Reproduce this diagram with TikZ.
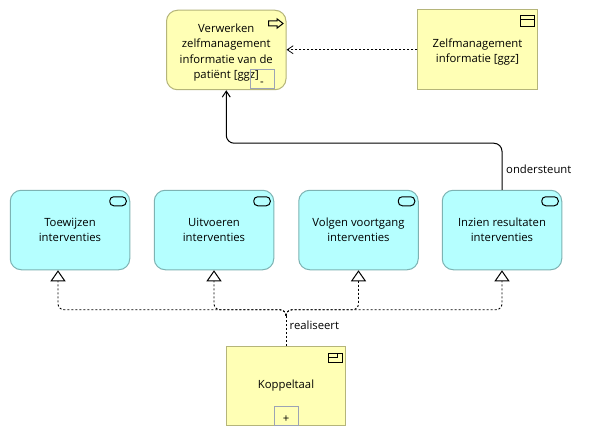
\documentclass[tikz,border=0pt]{standalone}
\usepackage{fontspec}
\setmainfont{Open Sans}
\usetikzlibrary{arrows.meta,calc}
\definecolor{ylw}{HTML}{FFFFB5}
\definecolor{ylwb}{HTML}{B5B57A}
\definecolor{cyn}{HTML}{B5FFFF}
\definecolor{cynb}{HTML}{7DB3B3}
\definecolor{boxb}{HTML}{9CA3B5}
\tikzset{
  x=1pt,y=-1pt,
  every node/.style={font=\fontsize{11.3}{15.3}\selectfont,text=black,inner sep=0pt},
  elem/.style={draw=#1,line width=1pt,minimum width=119.5pt,minimum height=79.5pt,align=center},
  plain/.style={elem=ylwb,fill=ylw},
  proc/.style={elem=ylwb,fill=ylw,rounded corners=11pt},
  func/.style={elem=cynb,fill=cyn,rounded corners=11pt},
  exp/.style={draw=boxb,line width=1pt,minimum width=24pt,minimum height=19pt,text height=13pt,text depth=0pt},
  icon/.style={draw=black,line width=1pt},
  real/.style={draw=black,line width=.9pt,dash pattern=on 2pt off 2pt,rounded corners=6pt,
    -{Triangle[open,length=11pt,width=15pt,line width=1pt,fill=white]}},
  trunk/.style={draw=black,line width=.9pt,dash pattern=on 2pt off 2pt},
  flow/.style={draw=black,line width=.8pt,dash pattern=on 2pt off 2pt,
    -{Straight Barb[length=6pt,width=8pt,line width=.8pt]}},
  serv/.style={draw=black,line width=1pt,rounded corners=8pt,
    -{Straight Barb[length=6pt,width=8pt,line width=1pt]}},
  lab/.style={anchor=west}
}
\begin{document}
\begin{tikzpicture}
\useasboundingbox (0,0) rectangle (590,436);
\fill[white] (0,0) rectangle (590,436);
\node[proc] (v) at (226.25,50) {\rule{0pt}{14pt}Verwerken\\zelfmanagement\\informatie van de\\patiënt [ggz]};
\node[plain] (z) at (477.5,49.75) {\rule{0pt}{13pt}Zelfmanagement\\informatie [ggz]};
\node[func] (a) at (70,230) {Toewijzen\\interventies};
\node[func] (b) at (214,230) {Uitvoeren\\interventies};
\node[func] (c) at (358.5,230) {Volgen voortgang\\interventies};
\node[func] (d) at (502,230) {Inzien resultaten\\interventies};
\node[plain] (k) at (286,386) {Koppeltaal};
\node[exp] (vm) at (262,79.5) {-};
\node[exp] (kp) at (286,415.5) {+};
% connectors
\path[flow] (z.west) -- (v.east |- z.west);
\path[serv] (d.north) |- ($(v.south)+(0,53)$) -- (v.south);
\coordinate (j) at ($(k.north)+(0,-36)$);
\coordinate (j2) at ($(j)+(0,6)$);
\path[trunk] (k.north) -- (j2);
\path[real] (j2) -- (j) -| ($(a.south)+(-12,0)$);
\path[real] (j2) -- (j) -| (b.south);
\path[real] (j2) -- (j) -| (c.south);
\path[real] (j2) -- (j) -| (d.south);
\node[lab] (l1) at (289.5,325) {realiseert};
\node[lab] (l2) at (506,169) {ondersteunt};
% icons
\draw[icon,fill=ylw] (268.5,21) -- (277,21) -- (277,18.8) -- (283,23.5) -- (277,28.2) -- (277,26) -- (268.5,26) -- cycle;
\draw[icon,fill=ylw] (520,16) rectangle (534,26.5);
\draw[icon] (520,19.7) -- (534,19.7);
\foreach \n in {a,b,c,d}{
  \draw[icon,fill=cyn,rounded corners=4pt] ($(\n.north east)+(-20.5,7)$) rectangle ($(\n.north east)+(-4,16)$);
}
\draw[icon,fill=ylw] (328.5,353) rectangle (342,362);
\draw[icon] (328.5,357) -- (337,357) -- (337,353);
\end{tikzpicture}
\end{document}
